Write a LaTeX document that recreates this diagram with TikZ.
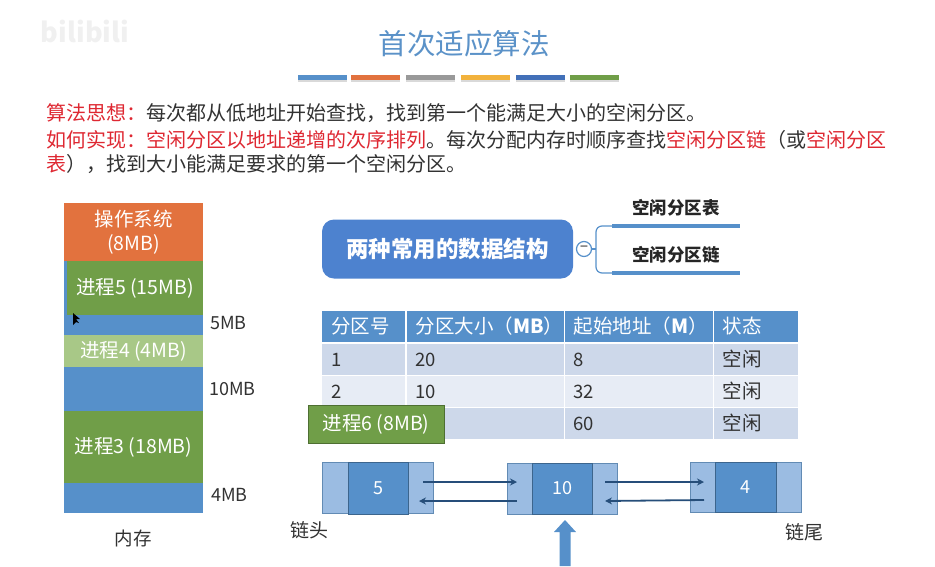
\documentclass[tikz,border=0pt]{standalone}
\usepackage{fontspec}
\setmainfont{Noto Sans CJK SC}
\usepackage{tikz}
\usetikzlibrary{positioning, arrows.meta, calc, shadows}
\definecolor{titleblue}{RGB}{91, 146, 200}
\definecolor{memblue}{RGB}{86, 144, 202}
\definecolor{memorange}{RGB}{226, 114, 62}
\definecolor{memgreen}{RGB}{112, 158, 72}
\definecolor{memlight}{RGB}{168, 200, 135}
\definecolor{cellblue}{RGB}{155, 188, 226}
\definecolor{rowdark}{RGB}{205, 216, 234}
\definecolor{rowlight}{RGB}{231, 236, 245}
\definecolor{linkdark}{RGB}{38, 78, 122}
\definecolor{redtxt}{RGB}{222, 40, 50}
\definecolor{bodytxt}{RGB}{50, 50, 50}
\definecolor{baryellow}{RGB}{242, 178, 60}
\definecolor{bardeep}{RGB}{66, 112, 184}
\newcommand{\fs}[1]{\fontsize{#1}{#1}\selectfont}
\tikzset{
    memblock/.style={minimum width=139pt, inner sep=0pt, outer sep=0pt, text=white, font=\fs{19.5}},
    memlabel/.style={text=bodytxt, font=\fs{18}, inner sep=0pt},
    bodyline/.style={anchor=west, inner sep=0pt, text=bodytxt, font=\fs{20}},
    tablecell/.style={anchor=west, inner xsep=9pt, inner ysep=0pt, outer sep=0pt, minimum height=31pt, align=left, text=bodytxt, font=\fs{18.5}},
    headcell/.style={tablecell, fill=memblue, text=white, font=\fs{19.5}},
    linkcell/.style={minimum height=51pt, inner sep=0pt, outer sep=0pt, fill=cellblue, draw=memblue!70!gray, line width=0.6pt},
    linkdata/.style={minimum height=51pt, minimum width=60pt, inner sep=0pt, outer sep=0pt, fill=memblue, draw=memblue!70!black, line width=0.6pt, text=white, font=\fs{18}},
    linkarrow/.style={-{Stealth[length=7pt, width=7pt]}, linkdark, line width=1.8pt},
    colorbar/.style={minimum width=49pt, minimum height=5pt, inner sep=0pt, drop shadow={shadow xshift=0pt, shadow yshift=-2pt, opacity=0.3}},
}
\begin{document}
\begin{tikzpicture}[x=1pt, y=-1pt]
\useasboundingbox (0,0) rectangle (935,566);
% title and bars
\node[gray!12, font=\bfseries\fs{27}, inner sep=0pt] (logo) at (85,31) {bilibili};
\node[titleblue, font=\fs{28.5}, inner sep=0pt] (title) at (464,44) {首次适应算法};
\foreach \name/\cx/\col in {a/322/memblue, b/375/memorange, c/430/gray!80, d/485/baryellow, e/540/bardeep, f/594/memgreen}
    \node[colorbar, fill=\col] (bar\name) at (\cx,77.5) {};
% text lines
\node[bodyline] (idea) at (46,113) {{\color{redtxt}算法思想：}每次都从低地址开始查找，找到第一个能满足大小的空闲分区。};
\node[bodyline] (how) at (46,140) {{\color{redtxt}如何实现：空闲分区以地址递增的次序排列}。每次分配内存时顺序查找{\color{redtxt}空闲分区链}（或{\color{redtxt}空闲分区}};
\node[bodyline] (howb) at (46,164) {{\color{redtxt}表}），找到大小能满足要求的第一个空闲分区。};
% memory column
\node[memblock, fill=memorange, minimum height=58pt, align=center] (os) at (133.5,232) {操作系统\\[4pt](8MB)};
\node[memblock, fill=memblue, minimum height=54pt] (edge) at (133.5,288) {};
\node[memblock, fill=memgreen, minimum width=136pt, minimum height=54pt] (procfive) at (135,288) {进程5 (15MB)};
\node[memblock, fill=memblue, minimum height=20pt] (freefive) at (133.5,325) {};
\node[memblock, fill=memlight, minimum height=32pt] (procfour) at (133.5,351) {进程4 (4MB)};
\node[memblock, fill=memblue, minimum height=44pt] (freeten) at (133.5,389) {};
\node[memblock, fill=memgreen, minimum height=72pt] (procthree) at (133.5,447) {进程3 (18MB)};
\node[memblock, fill=memblue, minimum height=30pt] (freefour) at (133.5,498) {};
\node[memlabel, anchor=west] (lbfive) at (210,323) {5MB};
\node[memlabel, anchor=west] (lbten) at (209,389) {10MB};
\node[memlabel, anchor=west] (lbfour) at (211,495) {4MB};
\node[memlabel, font=\fs{18.5}] (lbmem) at (133,538) {内存};
\fill[black] (73,313) -- (73,325) -- (76,322) -- (79,323) -- (76,319) -- (80,319) -- cycle;
% data structures
\node[fill=memblue!90!blue, rounded corners=12pt, minimum width=251pt, minimum height=59pt, inner sep=0pt, text=white, font=\bfseries\fs{22.5}] (ds) at (447.5,249) {两种常用的数据结构};
\node[circle, draw=memblue, fill=white, line width=1.2pt, minimum size=15pt, inner sep=0pt, font=\bfseries\fs{13}, text=gray] (minus) at (584,249) {−};
\coordinate (tabstart) at (612,226);
\coordinate (linkstart) at (612,273);
\draw[memblue, line width=1.2pt, rounded corners=6pt] (tabstart) -- (596,226) -- (596,273) -- (linkstart);
\draw[memblue, line width=1.2pt] (minus) -- (596,249);
\coordinate (tabend) at (740,226);
\coordinate (linkend) at (740,273);
\draw[memblue, line width=3.5pt] (tabstart) -- (tabend);
\draw[memblue, line width=3.5pt] (linkstart) -- (linkend);
\node[text=black!85, font=\bfseries\fs{17.5}, inner sep=0pt] (tablb) at (676,208) {空闲分区表};
\node[text=black!85, font=\bfseries\fs{17.5}, inner sep=0pt] (linklb) at (676,255) {空闲分区链};
% table
\foreach \colname/\cx/\cw/\txt in {a/322/83/分区号, b/406.5/157/分区大小（\textbf{MB}）, c/564.5/148/起始地址（\textbf{M}）, d/713.5/84/状态}
    \node[headcell, minimum width=\cw pt, text width=\cw pt-18pt] (head\colname) at (\cx,326.5) {\txt};
\foreach \rowname/\cy/\shade/\ta/\tb/\tc in {one/359.5/rowdark/1/20/8, two/391.5/rowlight/2/10/32, three/423.5/rowdark///60}{
    \node[tablecell, fill=\shade, minimum width=83pt, text width=65pt] (\rowname a) at (322,\cy) {\ta};
    \node[tablecell, fill=\shade, minimum width=157pt, text width=139pt] (\rowname b) at (406.5,\cy) {\tb};
    \node[tablecell, fill=\shade, minimum width=148pt, text width=130pt] (\rowname c) at (564.5,\cy) {\tc};
    \node[tablecell, fill=\shade, minimum width=84pt, text width=66pt, font=\fs{19.5}] (\rowname d) at (713.5,\cy) {空闲};
}
\node[memblock, fill=memgreen, draw=memgreen!70!black, line width=0.6pt, minimum width=136pt, minimum height=38pt] (procsix) at (376,424) {进程6 (8MB)};
% linked list
\node[linkcell, minimum width=26pt] (fivel) at (335,488) {};
\node[linkcell, minimum width=25pt] (fiver) at (420.5,488) {};
\node[linkdata, minimum height=52pt] (five) at (378,488.5) {5};
\node[linkcell, minimum width=25pt] (tenl) at (519.5,488.5) {};
\node[linkcell, minimum width=25pt] (tenr) at (604.5,488.5) {};
\node[linkdata] (ten) at (562,488.5) {10};
\node[linkcell, minimum width=25pt, minimum height=50pt] (fourl) at (702.5,487) {};
\node[linkcell, minimum width=25pt, minimum height=50pt] (fourr) at (788.5,487) {};
\node[linkdata, minimum width=61pt, minimum height=50pt] (four) at (745.5,487) {4};
\draw[linkarrow] ([shift={(2.5pt,6pt)}]fiver.center) -- ([shift={(-2.5pt,6.5pt)}]tenl.center);
\draw[linkarrow] ([shift={(-2.5pt,-12.5pt)}]tenl.center) -- ([shift={(-1.5pt,-13pt)}]fiver.center);
\draw[linkarrow] ([shift={(0.5pt,6.5pt)}]tenr.center) -- ([shift={(1.5pt,5pt)}]fourl.center);
\draw[linkarrow] ([shift={(1.5pt,-13pt)}]fourl.center) -- ([shift={(0.5pt,-12.5pt)}]tenr.center);
\node[memlabel, font=\fs{19}] (lbhead) at (309,530) {链头};
\node[memlabel, font=\fs{19}] (lbtail) at (804,532) {链尾};
\fill[memblue] (565,520) -- (576,532) -- (570.5,532) -- (570.5,566) -- (559.5,566) -- (559.5,532) -- (554,532) -- cycle;
\end{tikzpicture}
\end{document}
